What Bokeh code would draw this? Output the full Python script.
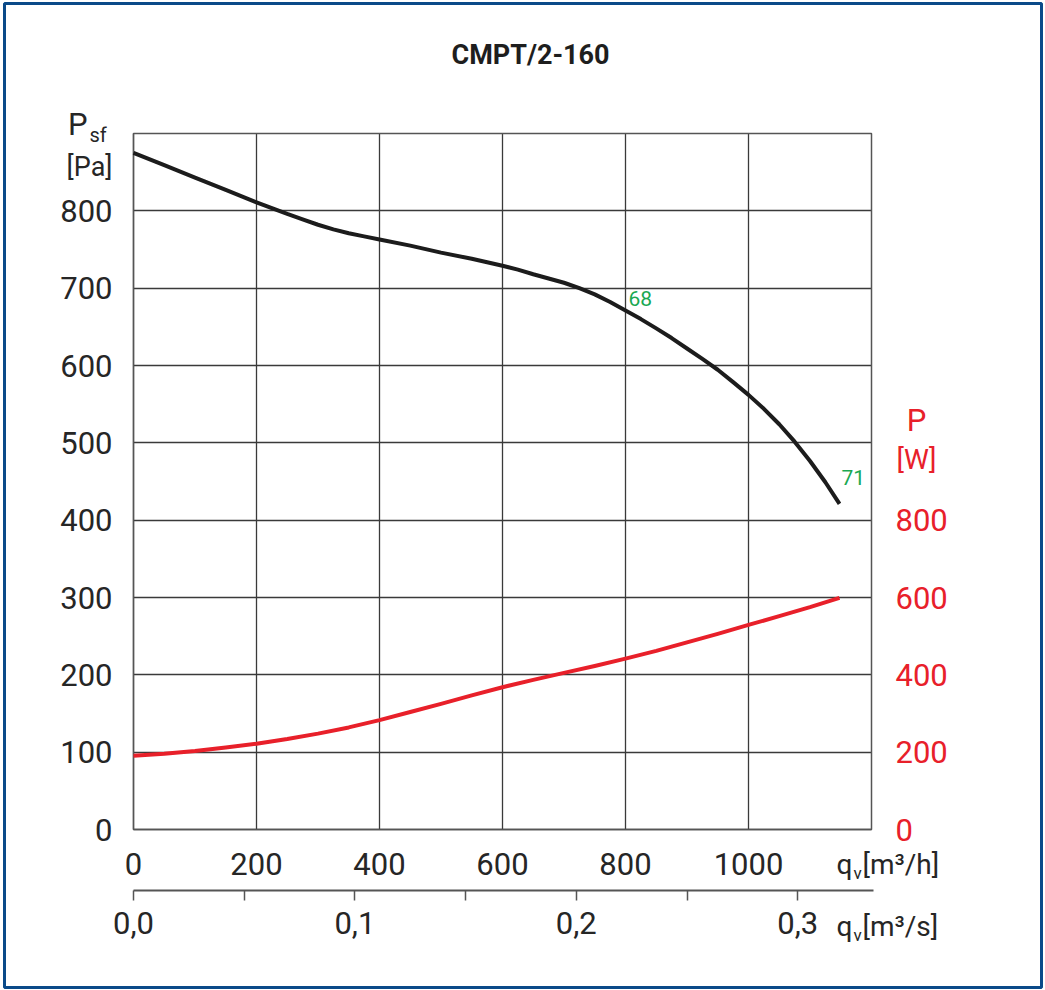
from bokeh.plotting import figure
from bokeh.models import (LinearAxis, Range1d, FixedTicker, Label, BoxAnnotation, Grid,
                          GlobalInlineStyleSheet, CustomJSTickFormatter)
from bokeh.embed import file_html
from bokeh.resources import INLINE

# ---------------- data ----------------
title_text = "CMPT/2-160"

flow_m3h = [0, 50, 100, 150, 200, 250, 275, 300, 325, 350, 375, 400, 450, 500,
            550, 600, 625, 650, 675, 700, 725, 750, 775, 800, 825, 850, 875,
            900, 925, 950, 975, 1000, 1025, 1050, 1075, 1100, 1125, 1148]
pressure_pa = [875, 859, 843, 827, 811, 796, 789, 782, 776, 771, 767, 763, 755, 746,
               738, 729, 724, 718, 712.5, 707, 700, 692, 682, 671, 660, 648, 635.5,
               622, 608.5, 594.5, 578.5, 562, 544, 524, 501.5, 476.5, 449, 421]

power_flow = [0, 50, 100, 150, 200, 250, 300, 350, 400, 450, 500, 550, 600,
              650, 700, 750, 800, 850, 900, 950, 1000, 1050, 1100, 1148]
power_w = [191, 196, 203, 212, 222, 234, 248, 264, 283, 304, 325, 347, 368,
           387, 405, 423, 442, 462, 484, 506, 529, 552, 575, 599]

x_ticks = [0, 200, 400, 600, 800, 1000]
y_ticks = [0, 100, 200, 300, 400, 500, 600, 700, 800]
w_ticks = [0, 200, 400, 600, 800]
s_ticks = [0.0, 0.1, 0.2, 0.3]
s_minor = [0.05, 0.15, 0.25]

eff_labels = ["68", "71"]

X_MAX, Y_MAX = 1200, 900          # chart area extent (m3/h, Pa)
W_PER_PA = 2                      # right axis: W = 2 * Pa
M3H_PER_M3S = 3600

# ---------------- layout (pixels) ----------------
W, H = 1044, 989
FL, FT, FW, FH = 133, 133, 738, 696
kx, ky = FW / X_MAX, FH / Y_MAX


def dx(px):
    return (px - FL) / kx


def dy(py):
    return (FT + FH - py) / ky


FONT = "Roboto"
RED = "#e8202a"
GREEN = "#1aa852"
TXT = "#262626"
GRID = "#3a3a3a"

p = figure(width=W, height=H, min_border=0,
           x_range=Range1d(dx(0), dx(W)), y_range=Range1d(dy(H), dy(0)),
           output_backend="svg", toolbar_location=None,
           background_fill_color="white", border_fill_color="white")
p.stylesheets = [GlobalInlineStyleSheet(css="body{margin:0 !important;overflow:hidden;}")]
p.title.visible = False
p.outline_line_color = None


def style_axis(ax, color=TXT, standoff=20):
    ax.axis_line_color = None
    ax.major_tick_line_color = None
    ax.minor_tick_line_color = None
    ax.major_tick_out = 0
    ax.major_tick_in = 0
    ax.minor_tick_out = 0
    ax.minor_tick_in = 0
    ax.major_label_standoff = standoff
    ax.major_label_text_font = FONT
    ax.major_label_text_font_size = "31px"
    ax.major_label_text_color = color


# main x axis (m3/h)
xa = p.xaxis[0]
xa.ticker = FixedTicker(ticks=x_ticks)
style_axis(xa, TXT, 23)
xa.fixed_location = 0
xa.bounds = (0, X_MAX)

# main y axis (Pa)
ya = p.yaxis[0]
ya.ticker = FixedTicker(ticks=y_ticks)
style_axis(ya, TXT, 21)
ya.fixed_location = 0
ya.bounds = (0, Y_MAX)

# right axis (W)
p.extra_y_ranges = {"w": Range1d(dy(H) * W_PER_PA, dy(0) * W_PER_PA)}
ra = LinearAxis(y_range_name="w", ticker=FixedTicker(ticks=w_ticks))
style_axis(ra, RED, 24)
ra.fixed_location = X_MAX
ra.bounds = (0, Y_MAX * W_PER_PA)
p.add_layout(ra, "right")

# second x axis (m3/s)
p.extra_x_ranges = {"s": Range1d(dx(0) / M3H_PER_M3S, dx(W) / M3H_PER_M3S)}
sa = LinearAxis(x_range_name="s", ticker=FixedTicker(ticks=s_ticks, minor_ticks=s_minor),
                formatter=CustomJSTickFormatter(code="return tick.toFixed(1).replace('.', ',');"))
style_axis(sa, TXT, 11)
sa.axis_line_color = "#555555"
sa.axis_line_width = 2
sa.major_tick_line_color = "#555555"
sa.minor_tick_line_color = "#555555"
sa.major_tick_line_width = 1.5
sa.minor_tick_line_width = 1.5
sa.major_tick_out = 10
sa.minor_tick_out = 10
sa.fixed_location = dy(890)
sa.bounds = (0, dx(873) / M3H_PER_M3S)
p.add_layout(sa, "below")

# grid limited to the chart area
if "cross_bounds" in Grid.properties():
    for g in (p.xgrid[0], p.ygrid[0]):
        g.grid_line_color = GRID
        g.grid_line_width = 1.3
    p.xgrid[0].ticker = FixedTicker(ticks=x_ticks)
    p.ygrid[0].ticker = FixedTicker(ticks=y_ticks)
    p.xgrid[0].cross_bounds = (0, Y_MAX)
    p.ygrid[0].cross_bounds = (0, X_MAX)
else:
    p.grid.visible = False
    p.segment(x0=x_ticks[1:], y0=0, x1=x_ticks[1:], y1=Y_MAX, line_color=GRID, line_width=1.3)
    p.segment(x0=0, y0=y_ticks[1:], x1=X_MAX, y1=y_ticks[1:], line_color=GRID, line_width=1.3)

# chart area outline
p.add_layout(BoxAnnotation(left=0, right=X_MAX, bottom=0, top=Y_MAX, fill_alpha=0,
                           line_color="#555555", line_alpha=1, line_width=1.5,
                           level="underlay"))

# curves
p.line(flow_m3h, pressure_pa, line_color="#1c1c1c", line_width=4, line_join="round")
p.line(power_flow, [w / W_PER_PA for w in power_w], line_color=RED, line_width=4,
       line_join="round")

SHIFT = 9  # rendered baseline sits lower than requested


def lab(px, py, text, size, color=TXT, align="left", style="normal", shift=SHIFT):
    p.add_layout(Label(x=dx(px), y=dy(py - shift), text=text, text_font=FONT,
                       text_font_size=size, text_color=color, text_align=align,
                       text_baseline="alphabetic", text_font_style=style))


lab(628, 306, eff_labels[0], "21px", GREEN, shift=8)
lab(841, 485, eff_labels[1], "21px", GREEN, shift=8)

lab(530, 63, title_text, "27px", "#1e1e1e", "center", "bold")
lab(87, 133, "P", "31px", TXT, "right")
lab(89, 142, "sf", "20px", TXT, "left", shift=8)
lab(112, 175, "[Pa]", "27px", TXT, "right")
lab(916, 430, "P", "31px", RED, "center", shift=10)
lab(916, 468, "[W]", "28px", RED, "center")
lab(836, 873, "q", "28px", TXT, "left")
lab(853, 879, "v", "17px", TXT, "left", shift=7)
lab(862, 873, "[m³/h]", "28px", TXT, "left")
lab(836, 935, "q", "28px", TXT, "left")
lab(853, 941, "v", "17px", TXT, "left", shift=7)
lab(862, 935, "[m³/s]", "28px", TXT, "left")

# outer frame
p.add_layout(BoxAnnotation(left=dx(4), right=dx(1041), top=dy(3), bottom=dy(987),
                           fill_alpha=0, line_color="#0b4a89", line_alpha=1, line_width=3))

open("out.html", "w").write(file_html(p, INLINE))
